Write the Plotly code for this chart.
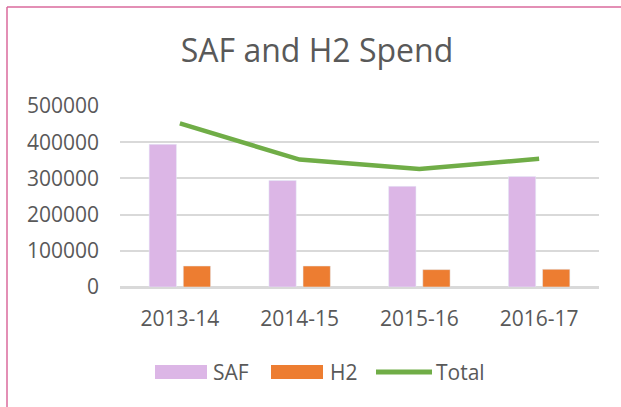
import plotly.graph_objects as go

years = ['2013-14', '2014-15', '2015-16', '2016-17']
saf = [394000, 294000, 278000, 305000]
h2 = [58000, 58000, 48000, 49000]
total = [452000, 352000, 326000, 354000]
y_ticks = [0, 100000, 200000, 300000, 400000, 500000]

series_names = ['SAF', 'H2', 'Total']
series_colors = ['#DCB6E6', '#ED7D31', '#70AD47']

W, H = 621, 407
L, R, T, B = 120, 22, 106, 120
TEXT = '#595959'
FONT = 'Open Sans'


# pixel -> paper helpers for the frame and the hand drawn legend
def px(x):
    return (x - L) / (W - L - R)


def py(y):
    return (H - B - y) / (H - T - B)


fig = go.Figure()
fig.add_trace(go.Bar(x=years, y=saf, name='SAF', marker_color=series_colors[0]))
fig.add_trace(go.Bar(x=years, y=h2, name='H2', marker_color=series_colors[1]))
fig.add_trace(go.Scatter(x=years, y=total, name='Total', mode='lines',
                         line=dict(color=series_colors[2], width=4.5)))

fig.update_layout(
    width=W, height=H, autosize=False,
    margin=dict(l=L, r=R, t=T, b=B),
    paper_bgcolor='white', plot_bgcolor='white',
    barmode='group', bargap=0.43, bargroupgap=0.2,
    showlegend=False,
    font=dict(family=FONT, color=TEXT),
    title=dict(text='SAF and H2 Spend', x=317 / W, xref='container', xanchor='center',
               y=1 - 51 / H, yref='container', yanchor='middle',
               font=dict(size=32, color=TEXT, family=FONT)),
)
fig.update_xaxes(showgrid=False, showline=False, ticks='',
                 tickfont=dict(size=21, color=TEXT), ticklabelstandoff=17)
fig.update_yaxes(range=[0, 500000], tickvals=y_ticks, tickformat='d',
                 showgrid=True, gridcolor='#D9D9D9', gridwidth=1.5,
                 zeroline=True, zerolinecolor='#D9D9D9', zerolinewidth=2.5,
                 showline=False, ticks='',
                 tickfont=dict(size=21, color=TEXT), ticklabelstandoff=20)

# pink frame, left and top edges
frame = '#DA6A9C'
fig.add_shape(type='line', xref='paper', yref='paper', x0=px(7), x1=px(7),
              y0=py(7), y1=py(H + 5), line=dict(color=frame, width=1.5))
fig.add_shape(type='line', xref='paper', yref='paper', x0=px(7), x1=px(W + 5),
              y0=py(7), y1=py(7), line=dict(color=frame, width=1.5))

# legend drawn below the axis
ly = 372
swatches = [(155, 207, 212), (271, 323, 329), (376, 432, 435)]
for i, (x0, x1, tx) in enumerate(swatches):
    if i < 2:
        fig.add_shape(type='rect', xref='paper', yref='paper',
                      x0=px(x0), x1=px(x1), y0=py(ly - 7), y1=py(ly + 7),
                      line=dict(width=0), fillcolor=series_colors[i])
    else:
        fig.add_shape(type='line', xref='paper', yref='paper',
                      x0=px(x0), x1=px(x1), y0=py(ly), y1=py(ly),
                      line=dict(color=series_colors[i], width=5))
    fig.add_annotation(text=series_names[i], xref='paper', yref='paper',
                       x=px(tx), y=py(ly), xanchor='left', yanchor='middle',
                       showarrow=False, font=dict(size=21, color=TEXT), borderpad=0)

# drop the browser's default body margin so the chart sits at the page corner
fig.write_html("out.html", config={'displayModeBar': False},
               post_script="document.body.style.margin = '0';")
